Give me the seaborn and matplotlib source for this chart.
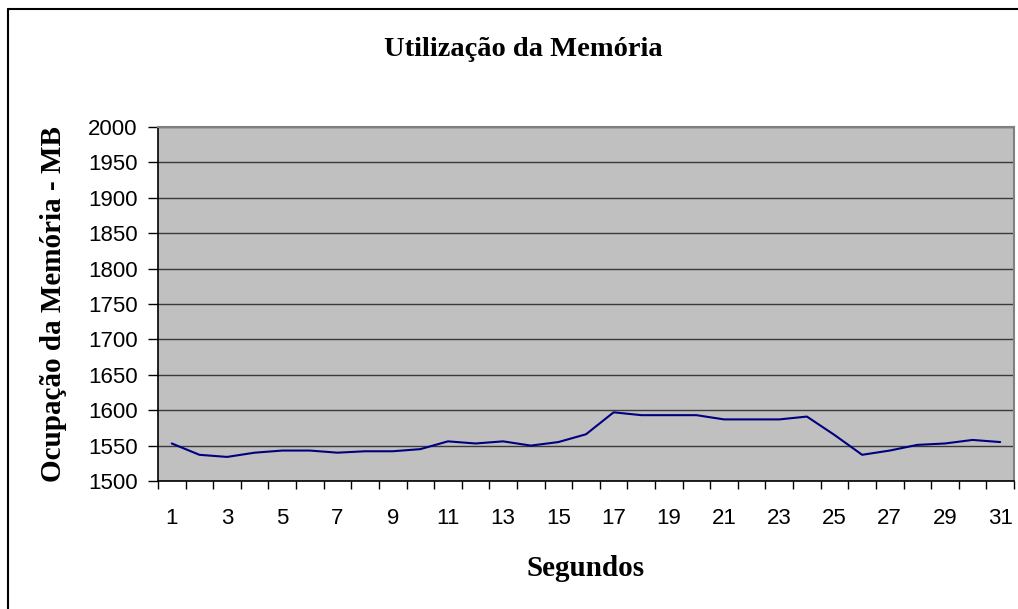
import matplotlib
matplotlib.use("Agg")
import matplotlib.pyplot as plt
from matplotlib.ticker import FixedLocator
import seaborn as sns
import pandas as pd

segundos = list(range(1, 32))
memoria = [1553, 1537, 1534, 1540, 1543, 1543, 1540, 1542, 1542, 1545,
           1556, 1553, 1556, 1550, 1555, 1566, 1597, 1593, 1593, 1593,
           1587, 1587, 1587, 1591, 1565, 1537, 1543, 1551, 1553, 1558, 1555]
y_ticks = list(range(1500, 2001, 50))
x_labels = [str(s) for s in segundos if s % 2 == 1]

sns.set_theme(style="white")
plt.rcParams['font.family'] = ['Liberation Sans', 'DejaVu Sans']
plt.rcParams['text.color'] = 'black'
plt.rcParams['axes.labelcolor'] = 'black'
plt.rcParams['xtick.color'] = 'black'
plt.rcParams['ytick.color'] = 'black'

df = pd.DataFrame({"Segundos": segundos, "Memoria": memoria})

fig = plt.figure(figsize=(10.18, 6.09), dpi=100)
ax = fig.add_axes([158 / 1018, 1 - 481 / 609, (1014 - 158) / 1018, (481 - 127) / 609])

# outer frame (top and left visible)
fig.add_artist(plt.Line2D([8 / 1018, 8 / 1018], [0, 1 - 9 / 609], color="black", lw=1.5,
                          transform=fig.transFigure))
fig.add_artist(plt.Line2D([8 / 1018, 1.0], [1 - 9 / 609, 1 - 9 / 609], color="black", lw=1.5,
                          transform=fig.transFigure))

ax.set_facecolor("#C0C0C0")
sns.lineplot(data=df, x="Segundos", y="Memoria", ax=ax, color="#000080", lw=1.5)

ax.set_xlim(0.5, 31.5)
ax.set_ylim(1500, 2000)
ax.set_yticks(y_ticks)
ax.yaxis.grid(True, color="#3a3a3a", lw=1)
ax.set_axisbelow(True)

ax.set_xticks([s for s in segundos if s % 2 == 1])
ax.set_xticklabels(x_labels)
ax.xaxis.set_minor_locator(FixedLocator([s + 0.5 for s in range(0, 32)]))
ax.tick_params(axis="x", which="major", length=0, pad=19.5, labelsize=16, colors="black")
ax.tick_params(axis="x", which="minor", length=6, width=1, color="black", direction="out", bottom=True)
ax.tick_params(axis="y", which="major", length=7, width=1, color="black", direction="out",
               left=True, labelsize=16, pad=7.5)

for side in ["top", "right"]:
    ax.spines[side].set_color("#808080")
    ax.spines[side].set_linewidth(1.5)
for side in ["left", "bottom"]:
    ax.spines[side].set_color("black")
    ax.spines[side].set_linewidth(1.2)

ax.set_xlabel("Segundos", fontsize=21, fontweight="bold", family=["Liberation Serif"], labelpad=19)
ax.set_ylabel("Ocupação da Memória - MB", fontsize=21, fontweight="bold",
              family=["Liberation Serif"], labelpad=15)
fig.text(523 / 1018, 1 - 50 / 609, "Utilização da Memória", ha="center", va="center",
         fontsize=20.5, fontweight="bold", family=["Liberation Serif"])

fig.savefig("out.png", dpi=100)
